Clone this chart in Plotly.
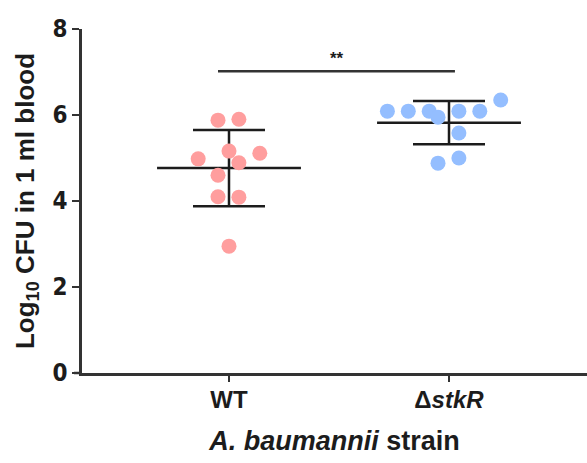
import numpy as np
import plotly.graph_objects as go

# ---- data ----
groups = ["WT", "ΔstkR"]
group_labels = ["<b>WT</b>", "<b>Δ<i>stkR</i></b>"]
group_pos = [1, 2]
wt_values = [5.88, 5.90, 5.16, 4.98, 5.11, 4.89, 4.60, 4.10, 4.09, 2.95]
wt_jitter = [-0.05, 0.045, 0.0, -0.14, 0.14, 0.045, -0.05, -0.05, 0.045, 0.0]
stkr_values = [6.09, 6.09, 6.09, 5.95, 6.09, 6.09, 6.35, 5.58, 5.00, 4.88]
stkr_jitter = [-0.28, -0.185, -0.09, -0.05, 0.045, 0.14, 0.235, 0.045, 0.045, -0.05]
colors = ["#FF9E9E", "#94BEFF"]
y_ticks = [0, 2, 4, 6, 8]
sig_text = "**"
sig_y = 7.02

values = [wt_values, stkr_values]
jitters = [wt_jitter, stkr_jitter]

FONT = "Liberation Sans, Arial, Helvetica, sans-serif"
NARROW = "Liberation Sans Narrow, Arial Narrow, DejaVu Sans Condensed, Liberation Sans, sans-serif"
INK = "#1c1c1c"

fig = go.Figure()

mean_half = 0.327
for pos, vals, name in zip(group_pos, values, groups):
    m = float(np.mean(vals))
    sd = float(np.std(vals, ddof=1))
    fig.add_trace(go.Scatter(
        x=[pos - mean_half, pos + mean_half], y=[m, m], mode="lines",
        line=dict(color=INK, width=2.5), showlegend=False, hoverinfo="skip"))
    fig.add_trace(go.Scatter(
        x=[pos], y=[m], mode="markers", marker=dict(size=1, opacity=0),
        error_y=dict(type="data", array=[sd], symmetric=True, width=36,
                     thickness=2.5, color=INK),
        showlegend=False, hoverinfo="skip"))

for pos, vals, jit, col, name in zip(group_pos, values, jitters, colors, groups):
    fig.add_trace(go.Scatter(
        x=[pos + j for j in jit], y=vals, mode="markers", name=name,
        marker=dict(size=15, color=col, line=dict(width=0)),
        showlegend=False))

# significance bar
fig.add_shape(type="line", xref="x", yref="y", x0=0.95, x1=2.027,
              y0=sig_y, y1=sig_y, line=dict(color="#333333", width=2.5))
fig.add_annotation(x=1.49, y=sig_y, xref="x", yref="y", text="<b>" + sig_text + "</b>",
                   showarrow=False, yanchor="bottom", yshift=1,
                   font=dict(family=FONT, size=17, color=INK))

# x axis line extension to the left of the y axis
fig.add_shape(type="line", xref="paper", yref="paper", x0=-8 / 505, x1=0,
              y0=0, y1=0, line=dict(color="#333333", width=2.5))

fig.update_layout(
    width=587, height=463,
    margin=dict(l=82, r=0, t=29, b=90),
    plot_bgcolor="white", paper_bgcolor="white",
    font=dict(family=FONT, color=INK),
    xaxis=dict(
        range=[0.3318, 2.6273], tickmode="array", tickvals=group_pos,
        ticktext=group_labels, ticks="outside", ticklen=6, tickwidth=2,
        tickcolor="#333333", showline=True, linewidth=2.5, linecolor="#333333",
        showgrid=False, zeroline=False, ticklabelstandoff=-3,
        tickfont=dict(family=FONT, size=24, color=INK),
        title=dict(text="<b><i>A. baumannii</i> strain</b>",
                   font=dict(family=FONT, size=27, color=INK), standoff=20),
    ),
    yaxis=dict(
        range=[0, 8], tickmode="array", tickvals=y_ticks,
        ticks="outside", ticklen=7, tickwidth=2, tickcolor="#333333",
        showline=True, linewidth=2.5, linecolor="#333333",
        showgrid=False, zeroline=False,
        tickfont=dict(family=NARROW, size=24, color=INK, weight="bold"),
        title=dict(text="<b>Log<sub>10</sub> CFU in 1 ml blood</b>",
                   font=dict(family=FONT, size=26, color=INK), standoff=11),
    ),
)

fig.write_html("out.html")
